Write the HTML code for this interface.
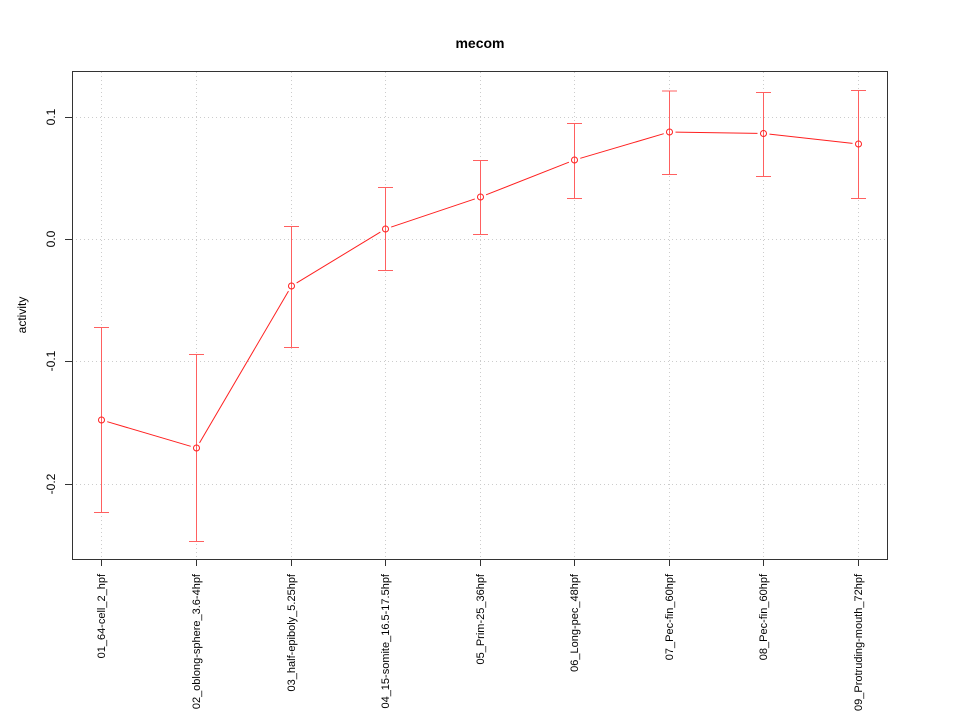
<!DOCTYPE html>
<html><head><meta charset="utf-8"><style>
html,body{margin:0;padding:0;background:#fff;}
svg{display:block;font-family:"Liberation Sans",Arial,sans-serif;}
</style></head><body>
<svg id="s" width="960" height="720" viewBox="0 0 960 720" xmlns="http://www.w3.org/2000/svg">
<text x="480" y="48" text-anchor="middle" font-size="14" font-weight="bold" fill="#000">mecom</text>
<g id="grid" stroke="#cccccc" stroke-width="1" stroke-dasharray="1,3"></g>
<g id="bars" stroke="#ff6060" stroke-width="1" fill="none"></g>
<g id="line" stroke="#ff2020" stroke-width="1" fill="none"></g>
<rect x="72.5" y="71.5" width="815" height="488" fill="none" stroke="#333" stroke-width="1"/>
<g id="axes" stroke="#333" stroke-width="1"></g>
<g id="lbl" font-size="11" fill="#000"></g>
<text transform="translate(26,315) rotate(-90)" text-anchor="middle" font-size="12" fill="#000">activity</text>
</svg>
<script>
var xs=[101,196,291,385,480,574,669,763,858];
var pts=[420,448,286,229,197,160,132,133.5,144];
var top_=[327,354,226,187,160,123,90.5,92,90];
var bot=[512,541,347,270,234,198,174,176,198];
var names=["01_64-cell_2_hpf","02_oblong-sphere_3.6-4hpf","03_half-epiboly_5.25hpf","04_15-somite_16.5-17.5hpf","05_Prim-25_36hpf","06_Long-pec_48hpf","07_Pec-fin_60hpf","08_Pec-fin_60hpf","09_Protruding-mouth_72hpf"];
var ns="http://www.w3.org/2000/svg";
function el(p,t,a,txt){var e=document.createElementNS(ns,t);for(var k in a)e.setAttribute(k,a[k]);if(txt)e.textContent=txt;document.getElementById(p).appendChild(e);return e;}
xs.forEach(function(x){el("grid","line",{x1:x+.5,y1:72,x2:x+.5,y2:559});});
[117,239,361,484].forEach(function(y){el("grid","line",{x1:72,y1:y+.5,x2:888,y2:y+.5});});
xs.forEach(function(x,i){
 el("bars","line",{x1:x+.5,y1:top_[i],x2:x+.5,y2:bot[i]});
 el("bars","line",{x1:x-7,y1:top_[i]+.5,x2:x+8,y2:top_[i]+.5});
 el("bars","line",{x1:x-7,y1:bot[i]+.5,x2:x+8,y2:bot[i]+.5});
 el("line","circle",{cx:x+.5,cy:pts[i],r:3});
 el("axes","line",{x1:x+.5,y1:559,x2:x+.5,y2:566});
 el("lbl","text",{transform:"translate("+(x+4)+",574) rotate(-90)","text-anchor":"end"},names[i]);
});
for(var i=0;i<8;i++){
 var x1=xs[i]+.5,y1=pts[i],x2=xs[i+1]+.5,y2=pts[i+1];
 var dx=x2-x1,dy=y2-y1,L=Math.sqrt(dx*dx+dy*dy),g=6/L;
 el("line","line",{x1:x1+dx*g,y1:y1+dy*g,x2:x2-dx*g,y2:y2-dy*g});
}
el("axes","line",{x1:72.5,y1:117,x2:72.5,y2:484});
var yl=[[117,"0.1"],[239,"0.0"],[361,"-0.1"],[484,"-0.2"]];
yl.forEach(function(a){
 el("axes","line",{x1:65,y1:a[0]+.5,x2:72,y2:a[0]+.5});
 el("lbl","text",{transform:"translate(55,"+a[0]+") rotate(-90)","text-anchor":"middle","font-size":"12"},a[1]);
});
</script>
</body></html>
